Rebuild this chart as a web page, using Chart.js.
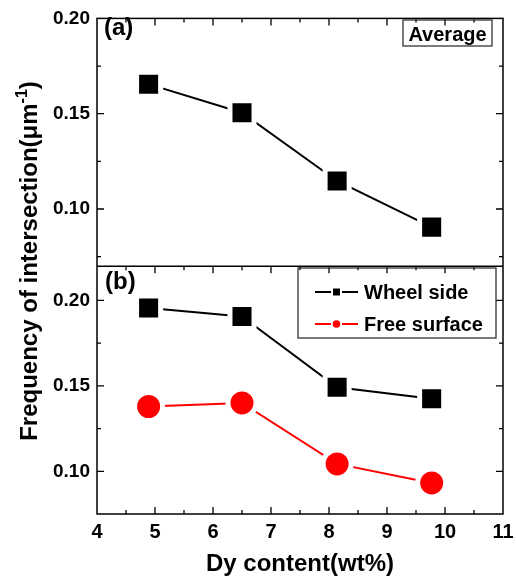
<!DOCTYPE html>
<html>
<head>
<meta charset="utf-8">
<script src="https://cdn.jsdelivr.net/npm/chart.js@4.4.1/dist/chart.umd.min.js"></script>
<style>
  html, body { margin: 0; padding: 0; background: #fff; }
  #wrap { width: 516px; height: 580px; }
</style>
</head>
<body>
<div id="wrap"><canvas id="chart"></canvas></div>
<script>
// values
const dyContent = [4.89, 6.50, 8.14, 9.77];
const average = [0.1655, 0.1505, 0.1147, 0.0905];
const wheelSide = [0.1955, 0.1906, 0.1492, 0.1424];
const freeSurface = [0.1379, 0.1400, 0.1043, 0.0932];
const xTicks = [4, 5, 6, 7, 8, 9, 10, 11];
const yTicksTop = [0.10, 0.15, 0.20];
const yTicksBottom = [0.10, 0.15, 0.20];

const FONT = '"Liberation Sans", Arial, sans-serif';

function pts(ys) {
    return dyContent.map((x, i) => ({ x: x, y: ys[i] }));
}

function yAxis(min, max, tickList) {
    return {
        type: 'linear',
        position: 'left',
        stack: 'panels',
        stackWeight: 1,
        min: min,
        max: max,
        afterBuildTicks: s => { s.ticks = tickList.map(v => ({ value: v })); },
        afterFit: s => { s.width = 97; },
        grid: { display: false, drawTicks: false },
        border: { display: false },
        ticks: {
            color: '#000',
            padding: 7,
            font: { family: FONT, size: 19, weight: 'bold' },
            callback: v => v.toFixed(2)
        }
    };
}

// frame, inward ticks, labels and legend
const decorations = {
    id: 'decorations',
    afterDraw(chart) {
        const ctx = chart.ctx;
        const x = chart.scales.x;
        const yt = chart.scales.yTop;
        const yb = chart.scales.yBot;
        const L = chart.chartArea.left, R = chart.chartArea.right;
        const T = yt.top, M = yt.bottom, B = yb.bottom;

        ctx.save();
        ctx.strokeStyle = '#000';
        ctx.lineWidth = 1.5;
        ctx.strokeRect(L, T, R - L, B - T);
        ctx.beginPath();
        ctx.moveTo(L, M); ctx.lineTo(R, M);
        ctx.stroke();

        // x ticks
        ctx.lineWidth = 1.3;
        ctx.beginPath();
        for (let v = 4; v <= 11.001; v += 0.5) {
            const px = x.getPixelForValue(v);
            if (px <= L + 1 || px >= R - 1) continue;
            const len = Math.abs(v - Math.round(v)) < 0.01 ? 7 : 4;
            ctx.moveTo(px, B); ctx.lineTo(px, B - len);
            ctx.moveTo(px, M); ctx.lineTo(px, M + len);
            ctx.moveTo(px, T); ctx.lineTo(px, T + len);
        }
        // y ticks
        [yt, yb].forEach(s => {
            for (let v = 0.05; v <= 0.25; v += 0.025) {
                const py = s.getPixelForValue(v);
                if (py <= s.top + 1 || py >= s.bottom - 1) continue;
                const len = Math.abs(v / 0.05 - Math.round(v / 0.05)) < 0.01 ? 7 : 4;
                ctx.moveTo(L, py); ctx.lineTo(L + len, py);
                ctx.moveTo(R, py); ctx.lineTo(R - len, py);
            }
        });
        ctx.stroke();

        ctx.fillStyle = '#000';
        ctx.textBaseline = 'alphabetic';
        ctx.textAlign = 'left';
        ctx.font = 'bold 24px ' + FONT;
        ctx.fillText('(a)', 104, 35);
        ctx.fillText('(b)', 105, 289);

        // "Average" box
        ctx.lineWidth = 1.3;
        ctx.strokeStyle = '#333';
        ctx.strokeRect(403, 20, 89, 26);
        ctx.font = 'bold 20px ' + FONT;
        ctx.textAlign = 'center';
        ctx.fillText('Average', 447.5, 41);

        // legend
        ctx.strokeRect(298, 268, 198, 70);
        ctx.textAlign = 'left';
        const entries = [
            { label: 'Wheel side', color: '#000', style: 'rect', y: 292 },
            { label: 'Free surface', color: '#ff0000', style: 'circle', y: 324 }
        ];
        entries.forEach(e => {
            ctx.strokeStyle = e.color;
            ctx.fillStyle = e.color;
            ctx.lineWidth = 2;
            ctx.beginPath();
            ctx.moveTo(315, e.y); ctx.lineTo(331, e.y);
            ctx.moveTo(342, e.y); ctx.lineTo(358, e.y);
            ctx.stroke();
            ctx.beginPath();
            if (e.style === 'rect') ctx.rect(333, e.y - 3.5, 7, 7);
            else ctx.arc(336.5, e.y, 3.8, 0, Math.PI * 2);
            ctx.fill();
            ctx.fillStyle = '#000';
            ctx.fillText(e.label, 364, e.y + 6.5);
        });

        // y title spanning both panels
        ctx.translate(37, 261);
        ctx.rotate(-Math.PI / 2);
        ctx.fillStyle = '#000';
        const main = 'Frequency of intersection(\u03bcm';
        const sup = '-1';
        const tail = ')';
        ctx.font = 'bold 24px ' + FONT;
        const w1 = ctx.measureText(main).width;
        const w3 = ctx.measureText(tail).width;
        ctx.font = 'bold 16px ' + FONT;
        const w2 = ctx.measureText(sup).width;
        let cx = -(w1 + w2 + w3) / 2;
        ctx.font = 'bold 24px ' + FONT;
        ctx.fillText(main, cx, 0);
        cx += w1;
        ctx.font = 'bold 16px ' + FONT;
        ctx.fillText(sup, cx, -10);
        cx += w2;
        ctx.font = 'bold 24px ' + FONT;
        ctx.fillText(tail, cx, 0);
        ctx.restore();
    }
};

new Chart(document.getElementById('chart'), {
    type: 'line',
    data: {
        datasets: [
            {
                label: 'Average',
                data: pts(average),
                yAxisID: 'yTop',
                borderColor: '#000',
                borderWidth: 2,
                pointStyle: 'rect',
                pointRadius: 17,
                pointBackgroundColor: '#000',
                pointBorderColor: '#fff',
                pointBorderWidth: 5
            },
            {
                label: 'Wheel side',
                data: pts(wheelSide),
                yAxisID: 'yBot',
                borderColor: '#000',
                borderWidth: 2,
                pointStyle: 'rect',
                pointRadius: 17,
                pointBackgroundColor: '#000',
                pointBorderColor: '#fff',
                pointBorderWidth: 5
            },
            {
                label: 'Free surface',
                data: pts(freeSurface),
                yAxisID: 'yBot',
                borderColor: '#ff0000',
                borderWidth: 2,
                pointStyle: 'circle',
                pointRadius: 14,
                pointBackgroundColor: '#ff0000',
                pointBorderColor: '#fff',
                pointBorderWidth: 5
            }
        ]
    },
    options: {
        responsive: true,
        maintainAspectRatio: false,
        animation: false,
        events: [],
        layout: { autoPadding: false, padding: { left: 0, top: 17, right: 13, bottom: 0 } },
        plugins: { legend: { display: false }, tooltip: { enabled: false } },
        scales: {
            x: {
                type: 'linear',
                min: 4,
                max: 11,
                afterBuildTicks: s => { s.ticks = xTicks.map(v => ({ value: v })); },
                afterFit: s => { s.height = 66; s.paddingLeft = 0; s.paddingRight = 0; },
                grid: { display: false, drawTicks: false },
                border: { display: false },
                ticks: {
                    color: '#000',
                    padding: 6,
                    maxRotation: 0,
                    autoSkip: false,
                    font: { family: FONT, size: 20, weight: 'bold' }
                },
                title: {
                    display: true,
                    text: 'Dy content(wt%)',
                    color: '#000',
                    font: { family: FONT, size: 24, weight: 'bold' },
                    padding: { top: 0, bottom: 1 }
                }
            },
            yBot: yAxis(0.075, 0.22, yTicksBottom),
            yTop: yAxis(0.07, 0.20, yTicksTop)
        }
    },
    plugins: [decorations]
});
</script>
</body>
</html>
